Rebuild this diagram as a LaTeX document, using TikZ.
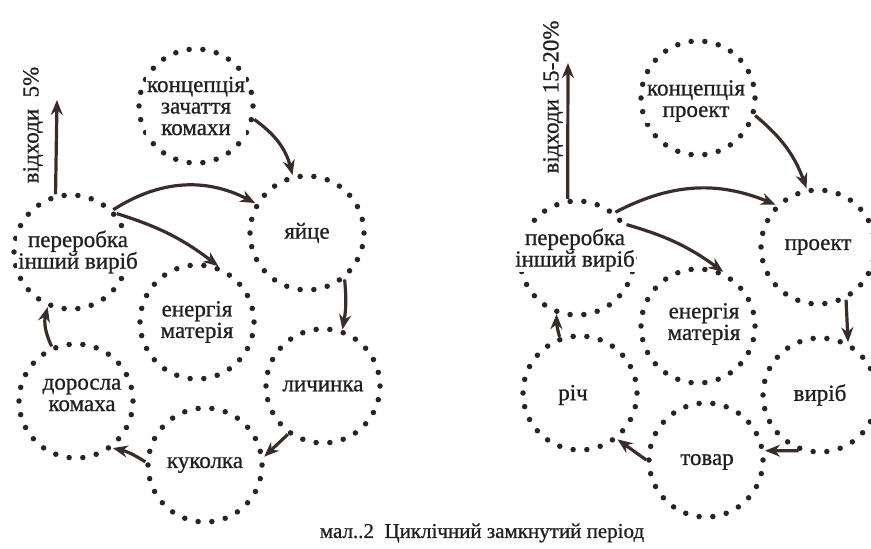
\documentclass[tikz,border=0pt]{standalone}
\usepackage{fontspec}
\setmainfont{Liberation Serif}[FakeBold=0.8]
\usepackage{tikz}
\usetikzlibrary{arrows.meta,positioning}

\definecolor{ink}{HTML}{3A2C2B}
\definecolor{dotink}{HTML}{2B2222}

\begin{document}
\begin{tikzpicture}[
  x=1pt, y=1pt,
  ring/.style={circle, draw=dotink, minimum size=114pt, inner sep=0pt, line width=5.5pt, dash pattern=on 0pt off 13.77pt, line cap=round},
  tag/.style={fill=white, inner sep=1pt, align=center, text=black!88, font=\fontsize{23}{21.5}\selectfont},
  arrow/.style={-{Stealth[length=15pt,width=12pt]}, line width=3.2pt, draw=ink}
]
\useasboundingbox (0,0) rectangle (871,-549);

% Left cycle
\node[ring] (lconcept) at (196,-106) {};
\node[ring] (lrecycle) at (71,-252) {};
\node[ring] (legg) at (307,-233) {};
\node[ring] (lenergy) at (197,-322) {};
\node[ring] (llarva) at (323,-386) {};
\node[ring] (ladult) at (76,-401) {};
\node[ring] (lpupa) at (205,-465) {};

\node[tag] (lconcepttxt) at (lconcept) {концепція\\зачаття\\комахи};
\node[tag] (lrecycletxt) at (78,-252) {переробка\\інший виріб};
\node[tag] (leggtxt) at (legg) {яйце};
\node[tag] (lenergytxt) at (lenergy) {енергія\\матерія};
\node[tag] (llarvatxt) at (llarva) {личинка};
\node[tag] (ladulttxt) at (82,-395) {доросла\\комаха};
\node[tag] (lpupatxt) at (lpupa) {куколка};

\coordinate (lwaste) at (57,-100);
\node[tag, rotate=90] (lwastetxt) at (33,-125) {відходи~~5\%};

% Right cycle
\node[ring] (rconcept) at (698,-98) {};
\node[ring] (rrecycle) at (577,-258) {};
\node[ring] (rproject) at (818,-247) {};
\node[ring] (renergy) at (698,-326) {};
\node[ring] (rproduct) at (820,-395) {};
\node[ring] (rthing) at (580,-393) {};
\node[ring] (rgoods) at (706,-460) {};

\node[tag] (rconcepttxt) at (696,-101) {концепція\\проект};
\node[tag] (rrecycletxt) at (575,-250) {переробка\\інший виріб};
\node[tag] (rprojecttxt) at (rproject) {проект};
\node[tag] (renergytxt) at (704,-324) {енергія\\матерія};
\node[tag] (rproducttxt) at (rproduct) {виріб};
\node[tag] (rthingtxt) at (573,-395) {річ};
\node[tag] (rgoodstxt) at (707,-462) {товар};

\coordinate (rwaste) at (568,-63);
\node[tag, rotate=90] (rwastetxt) at (553,-97) {відходи 15-20\%};

% Caption
\node[tag, font=\fontsize{21}{23}\selectfont] (caption) at (482,-533) {мал..2~~Циклічний замкнутий період};

% Arrows, left
\draw[arrow] (lconcept.-13) to[bend left=20] (legg.104);
\draw[arrow] (lrecycle.45) to[bend left=30] (legg.150);
\draw[arrow] (lrecycle.40) to[bend left=10] (lenergy.69);
\draw[arrow] (legg.-51) to[bend left=8] (llarva.71);
\draw[arrow] (llarva.-126) -- (lpupa.8);
\draw[arrow] (lpupa.177) to[bend right=10] (ladult.-52);
\draw[arrow] (ladult.114) to[bend left=20] (lrecycle.-113);
\draw[arrow] (lrecycle.105) -- (lwaste);

% Arrows, right
\draw[arrow] (rconcept.-17) to[bend left=15] (rproject.101);
\draw[arrow] (rrecycle.50) to[bend left=25] (rproject.135);
\draw[arrow] (rrecycle.34) to[bend left=10] (renergy.65);
\draw[arrow] (rproject.-62) -- (rproduct.62);
\draw[arrow] (rproduct.-111) -- (rgoods.9);
\draw[arrow] (rgoods.180) -- (rthing.-51);
\draw[arrow] (rthing.110) to[bend left=8] (rrecycle.-110);
\draw[arrow] (rrecycle.99) -- (rwaste);

\end{tikzpicture}
\end{document}
